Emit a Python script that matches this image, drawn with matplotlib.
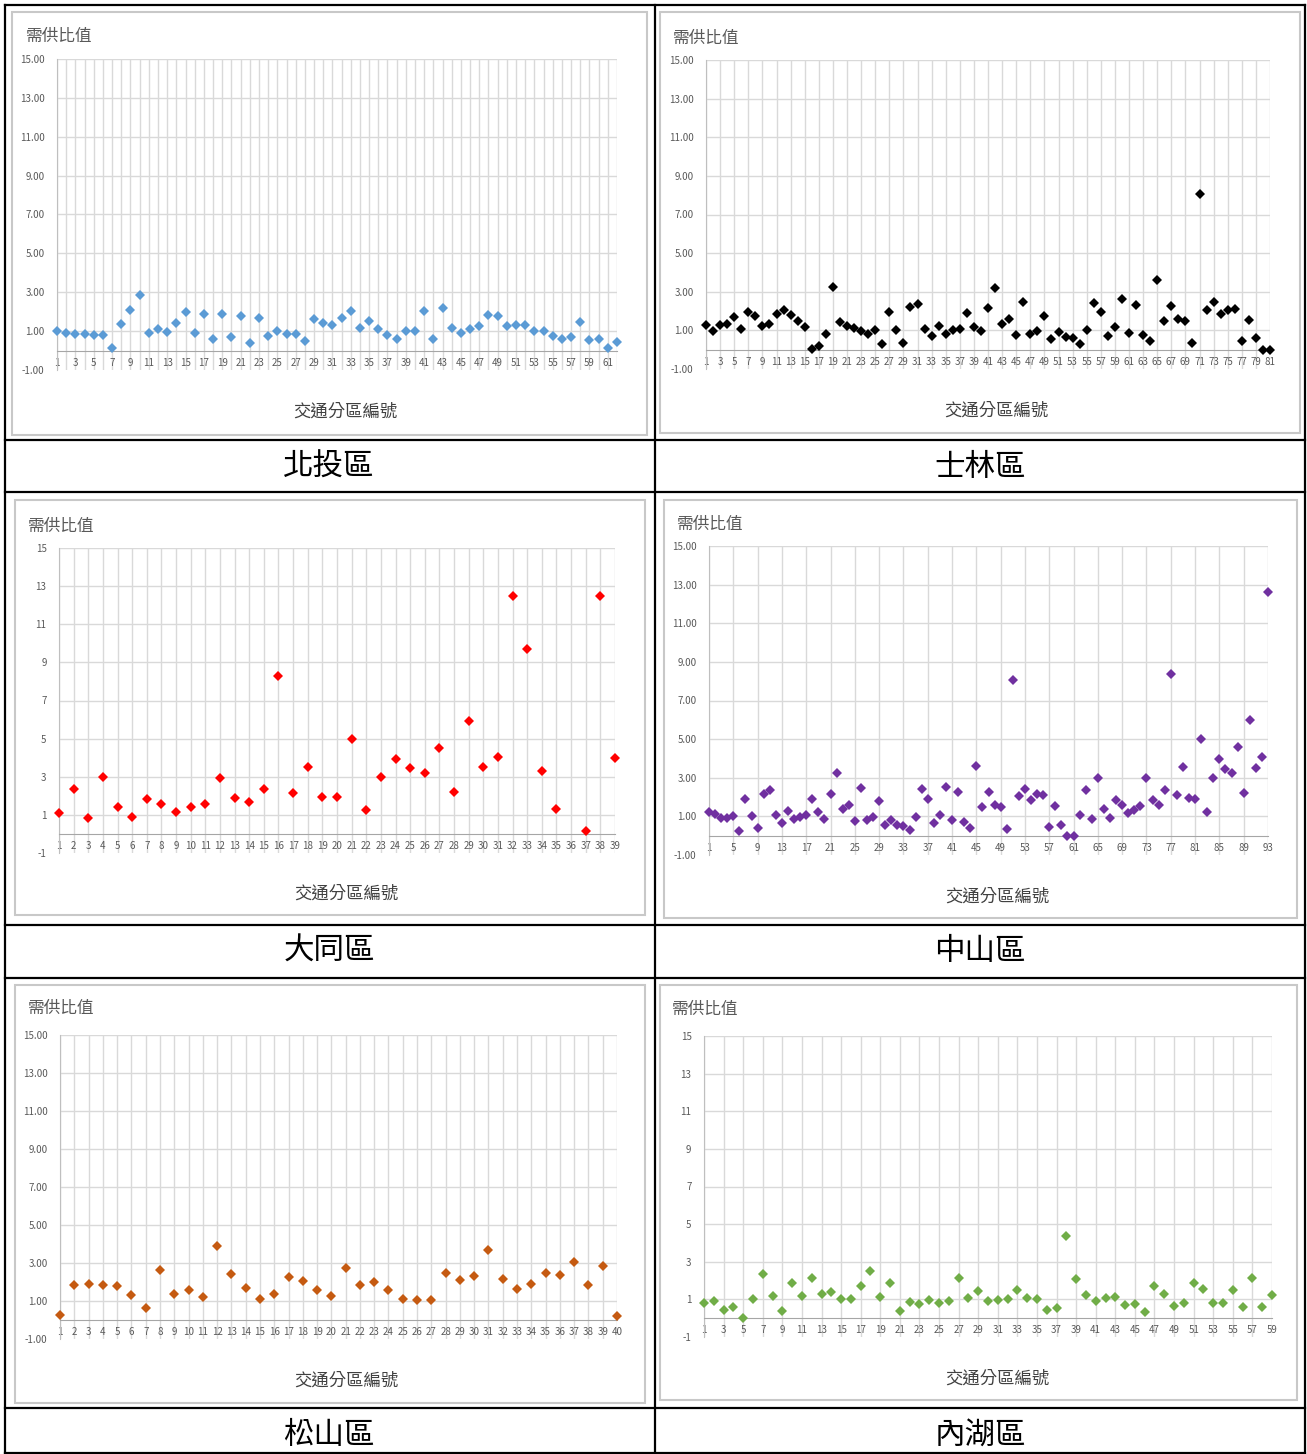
import numpy as np
import matplotlib
matplotlib.use("Agg")
import matplotlib.pyplot as plt
from matplotlib.patches import Rectangle
from matplotlib.lines import Line2D

plt.rcParams['font.family'] = ['Noto Sans CJK TC', 'DejaVu Sans']

W, H = 1307, 1454

# ---------------- data ----------------
beitou = [1.00, 0.91, 0.83, 0.83, 0.79, 0.79, 0.11, 1.39, 2.08, 2.88,
          0.88, 1.12, 0.98, 1.43, 1.99, 0.90, 1.89, 0.62, 1.89, 0.69,
          1.77, 0.40, 1.68, 0.74, 1.03, 0.83, 0.83, 0.49, 1.60, 1.41,
          1.29, 1.68, 2.03, 1.14, 1.51, 1.09, 0.79, 0.62, 1.00, 1.00,
          2.03, 0.62, 2.20, 1.17, 0.88, 1.12, 1.26, 1.85, 1.77, 1.26,
          1.29, 1.31, 1.00, 1.03, 0.74, 0.62, 0.71, 1.48, 0.54, 0.62,
          0.11, 0.45]

shilin = [1.26, 0.97, 1.26, 1.35, 1.70, 1.05, 1.96, 1.73, 1.23, 1.31,
          1.87, 2.08, 1.82, 1.47, 1.17, 0.04, 0.18, 0.79, 3.26, 1.43,
          1.23, 1.12, 0.97, 0.83, 1.03, 0.30, 1.96, 1.00, 0.34, 2.22,
          2.39, 1.09, 0.69, 1.23, 0.79, 1.03, 1.09, 1.90, 1.20, 0.95,
          2.17, 3.21, 1.35, 1.59, 0.77, 2.48, 0.79, 0.95, 1.75, 0.53,
          0.91, 0.65, 0.62, 0.30, 1.00, 2.43, 1.96, 0.69, 1.17, 2.60,
          0.88, 2.30, 0.74, 0.43, 3.61, 1.47, 2.25, 1.61, 1.47, 0.34,
          8.04, 2.04, 2.48, 1.87, 2.08, 2.13, 0.43, 1.56, 0.60, 0.00,
          0.00]

datong = [1.12, 2.35, 0.83, 3.01, 1.40, 0.91, 1.82, 1.56, 1.14, 1.40,
          1.56, 2.96, 1.86, 1.65, 2.35, 8.29, 2.14, 3.53, 1.96, 1.93,
          4.99, 1.26, 2.98, 3.92, 3.45, 3.22, 4.53, 2.22, 5.95, 3.50,
          4.02, 12.49, 9.71, 3.31, 1.30, np.nan, 0.18, 12.49, 3.97]

zhongshan = [1.23, 1.12, 0.91, 0.91, 1.03, 0.25, 1.92, 1.00, 0.39, 2.18,
             2.36, 1.09, 0.65, 1.26, 0.86, 0.97, 1.05, 1.90, 1.21, 0.86,
             2.18, 3.26, 1.38, 1.61, 0.74, 2.48, 0.79, 0.97, 1.78, 0.57,
             0.83, 0.57, 0.48, 0.27, 0.97, 2.43, 1.90, 0.65, 1.09, 2.53,
             0.83, 2.27, 0.70, 0.39, 3.59, 1.49, 2.27, 1.61, 1.47, 0.34,
             8.04, 2.08, 2.44, 1.87, 2.17, 2.13, 0.44, 1.52, 0.57, -0.01,
             -0.04, 1.09, 2.36, 0.86, 3.00, 1.40, 0.91, 1.87, 1.61, 1.17,
             1.35, 1.56, 2.97, 1.87, 1.61, 2.36, 8.39, 2.11, 3.57, 1.94,
             1.90, 5.03, 1.23, 3.00, 3.96, 3.47, 3.26, 4.57, 2.22, 6.01,
             3.52, 4.08, 12.60]

songshan = [0.28, 1.82, 1.91, 1.82, 1.77, 1.33, 0.65, 2.61, 1.39, 1.60,
            1.21, 3.88, 2.40, 1.70, 1.09, 1.39, 2.26, 2.04, 1.56, 1.25,
            2.74, 1.82, 2.00, 1.56, 1.12, 1.04, 1.04, 2.47, 2.09, 2.32,
            3.67, 2.16, 1.65, 1.88, 2.49, 2.35, 3.05, 1.86, 2.82, 0.19]

neihu = [0.82, 0.93, 0.44, 0.61, 0.03, 1.02, 2.34, 1.19, 0.38, 1.85,
         1.19, 2.11, 1.28, 1.41, 1.02, 1.00, 1.71, 2.52, 1.14, 1.85,
         0.40, 0.84, 0.74, 0.96, 0.82, 0.93, 2.11, 1.05, 1.45, 0.93,
         0.96, 1.02, 1.49, 1.05, 1.02, 0.44, 0.52, 4.37, 2.08, 1.23,
         0.91, 1.05, 1.14, 0.70, 0.75, 0.31, 1.71, 1.28, 0.65, 0.82,
         1.88, 1.55, 0.82, 0.79, 1.49, 0.61, 2.11, 0.58, 1.23]

district_names = ["北投區", "士林區", "大同區", "中山區", "松山區", "內湖區"]
y_title = "需供比值"
x_title = "交通分區編號"
y_ticks = [-1, 1, 3, 5, 7, 9, 11, 13, 15]

# ---------------- figure ----------------
fig = plt.figure(figsize=(W / 100, H / 100), dpi=100)


def fx(x):
    return x / W


def fy(y):
    return 1 - y / H


def panel(vals, color, box, plot, title_xy, xlabel_xy, xstep, gstep, fmt, ms):
    n = len(vals)
    x0, y0, x1, y1 = box
    fig.patches.append(Rectangle((fx(x0), fy(y1)), fx(x1 - x0), (y1 - y0) / H,
                                 transform=fig.transFigure, fill=False,
                                 edgecolor='#c8c8c8', lw=1.5))
    l, r, t, b = plot
    ax = fig.add_axes([fx(l), fy(b), fx(r - l), (b - t) / H])
    ax.set_xlim(1, n)
    ax.set_ylim(-1, 15)
    ax.patch.set_alpha(0)
    for s in ['top', 'right']:
        ax.spines[s].set_visible(False)
    ax.spines['left'].set_color('#bfbfbf')
    ax.spines['bottom'].set_color('#a6a6a6')
    ax.spines['bottom'].set_position(('data', 0))
    for yv in y_ticks[1:]:
        ax.axhline(yv, color='#d9d9d9', lw=1, zorder=0)
    for xv in range(1, n + 1, gstep):
        ax.axvline(xv, color='#d9d9d9', lw=1, zorder=0)
    xs = np.arange(1, n + 1)
    ax.plot(xs, vals, linestyle='none', marker='D', ms=ms, color=color,
            markeredgewidth=0, clip_on=False, zorder=3)
    xt = list(range(1, n + 1, xstep))
    ax.set_xticks(xt)
    ax.set_xticklabels([str(v) for v in xt])
    ax.set_yticks(y_ticks)
    ax.set_yticklabels([fmt.format(v) for v in y_ticks])
    ax.tick_params(axis='x', length=0, pad=5, labelsize=7, labelcolor='#595959')
    ax.tick_params(axis='y', length=0, pad=9, labelsize=7, labelcolor='#595959')
    fig.text(fx(title_xy[0]), fy(title_xy[1]), y_title, ha='left', va='center',
             fontsize=12, color='#595959')
    fig.text(fx(xlabel_xy[0]), fy(xlabel_xy[1]), x_title, ha='center', va='center',
             fontsize=12.5, color='#404040')
    return ax


panel(beitou, '#5B9BD5', (12, 12, 647, 435), (57, 617, 59, 370),
      (26, 36), (345, 412), 2, 1, '{:.2f}', 5.2)
panel(shilin, '#000000', (660, 12, 1300, 433), (706, 1270, 60, 369),
      (673, 38), (996, 411), 2, 2, '{:.2f}', 5.5)
panel(datong, '#FF0000', (15, 500, 645, 915), (59, 615, 548, 853),
      (28, 526), (346, 894), 1, 1, '{:d}', 5.5)
panel(zhongshan, '#7030A0', (664, 500, 1297, 918), (709, 1268, 546, 855),
      (677, 524), (997, 897), 4, 4, '{:.2f}', 5.2)
panel(songshan, '#C55A11', (15, 985, 645, 1403), (60, 617, 1035, 1339),
      (28, 1008), (346, 1381), 1, 1, '{:.2f}', 5.2)
panel(neihu, '#70AD47', (660, 985, 1297, 1400), (704, 1272, 1036, 1337),
      (672, 1009), (997, 1379), 2, 2, '{:d}', 5.2)

# ---------------- table lines & captions ----------------
def hline(y, x0=5, x1=1305):
    fig.add_artist(Line2D([fx(x0), fx(x1)], [fy(y), fy(y)], color='black', lw=1.6,
                          transform=fig.transFigure))


def vline(x, y0=5, y1=1454):
    fig.add_artist(Line2D([fx(x), fx(x)], [fy(y0), fy(y1)], color='black', lw=1.6,
                          transform=fig.transFigure))


for yy in [5, 440, 492, 925, 978, 1408, 1453]:
    hline(yy)
for xx in [5, 655, 1305]:
    vline(xx)

cap_pos = [(329, 467), (980, 467), (329, 951), (980, 951), (329, 1436), (980, 1436)]
for name, (cx, cy) in zip(district_names, cap_pos):
    fig.text(fx(cx), fy(cy), name, ha='center', va='center', fontsize=22, color='black')

fig.savefig('out.png', dpi=100)
